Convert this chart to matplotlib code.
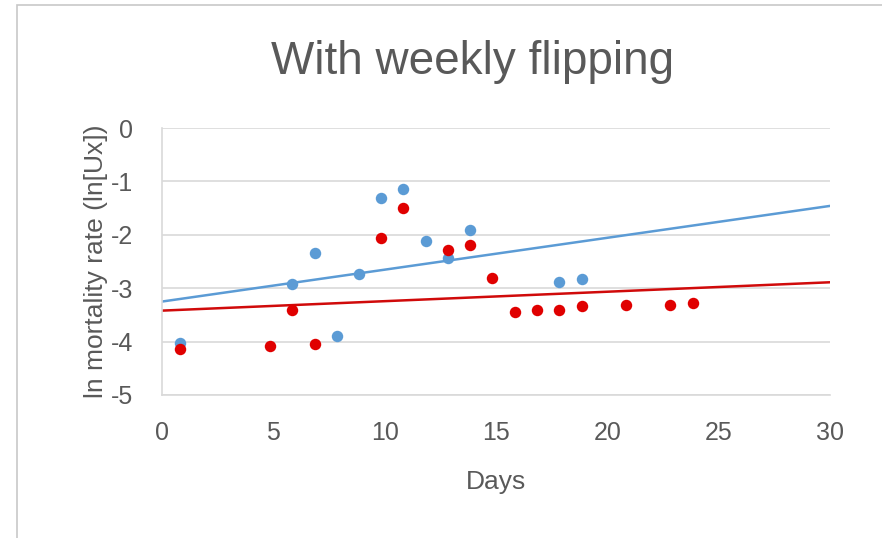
import numpy as np
import matplotlib.pyplot as plt
from matplotlib.patches import Rectangle

plt.rcParams['font.family'] = ['Liberation Sans', 'DejaVu Sans']
plt.rcParams['axes.unicode_minus'] = False

# day / ln(Ux) pairs for the two series
blue_days = [0.83, 5.86, 6.85, 7.85, 8.83, 9.83, 10.84, 11.84, 12.84, 13.83, 17.84, 18.84]
blue_lnux = [-4.02, -2.93, -2.34, -3.90, -2.73, -1.31, -1.14, -2.11, -2.44, -1.91, -2.89, -2.83]

red_days = [0.83, 4.87, 5.86, 6.85, 9.83, 10.84, 12.84, 13.83, 14.84,
            15.85, 16.84, 17.84, 18.84, 20.83, 22.83, 23.83]
red_lnux = [-4.14, -4.09, -3.40, -4.04, -2.06, -1.50, -2.28, -2.20, -2.80,
            -3.45, -3.40, -3.41, -3.34, -3.31, -3.31, -3.27]

# linear trendlines (slope, intercept)
blue_trend = (0.0597, -3.25)
red_trend = (0.0177, -3.42)

x_ticks = [0, 5, 10, 15, 20, 25, 30]
y_ticks = [0, -1, -2, -3, -4, -5]

blue_c = '#5b9bd5'
red_c = '#e00000'
grey_txt = '#595959'

fig = plt.figure(figsize=(8.82, 5.38), dpi=100)
# chart area border
fig.patches.append(Rectangle((17 / 882, -0.1), 1.0, 1 - 5 / 538 + 0.1,
                             transform=fig.transFigure, fill=False,
                             edgecolor='#c8c8c8', linewidth=1.2))

ax = fig.add_axes([162 / 882, 1 - 395 / 538, 668 / 882, 267 / 538])

xx = np.array([0, 30])
for (k, b), c in [(blue_trend, blue_c), (red_trend, '#d00a0a')]:
    ax.plot(xx, k * xx + b, color=c, lw=1.8, zorder=2)

ax.scatter(blue_days, blue_lnux, s=68, color=blue_c, zorder=3, linewidths=0)
ax.scatter(red_days, red_lnux, s=68, color=red_c, zorder=3, linewidths=0)

ax.set_xlim(0, 30)
ax.set_ylim(-5, 0)
ax.set_xticks(x_ticks)
ax.set_yticks(y_ticks)
ax.grid(axis='y', color='#d9d9d9', lw=1.2)
ax.set_axisbelow(True)
for s in ['top', 'right']:
    ax.spines[s].set_visible(False)
for s in ['left', 'bottom']:
    ax.spines[s].set_color('#d9d9d9')
    ax.spines[s].set_linewidth(1.2)
ax.tick_params(axis='x', length=0, labelsize=18, labelcolor=grey_txt, pad=19)
ax.tick_params(axis='y', length=0, labelsize=18, labelcolor=grey_txt, pad=21)

fig.text(473 / 882, 1 - 62 / 538, 'With weekly flipping', fontsize=33,
         color=grey_txt, ha='center', va='center')
ax.set_xlabel('Days', fontsize=19, color=grey_txt, labelpad=18)
ax.set_ylabel('ln mortality rate (ln[Ux])', fontsize=19, color=grey_txt, labelpad=2)

fig.savefig('out.png', dpi=100)
